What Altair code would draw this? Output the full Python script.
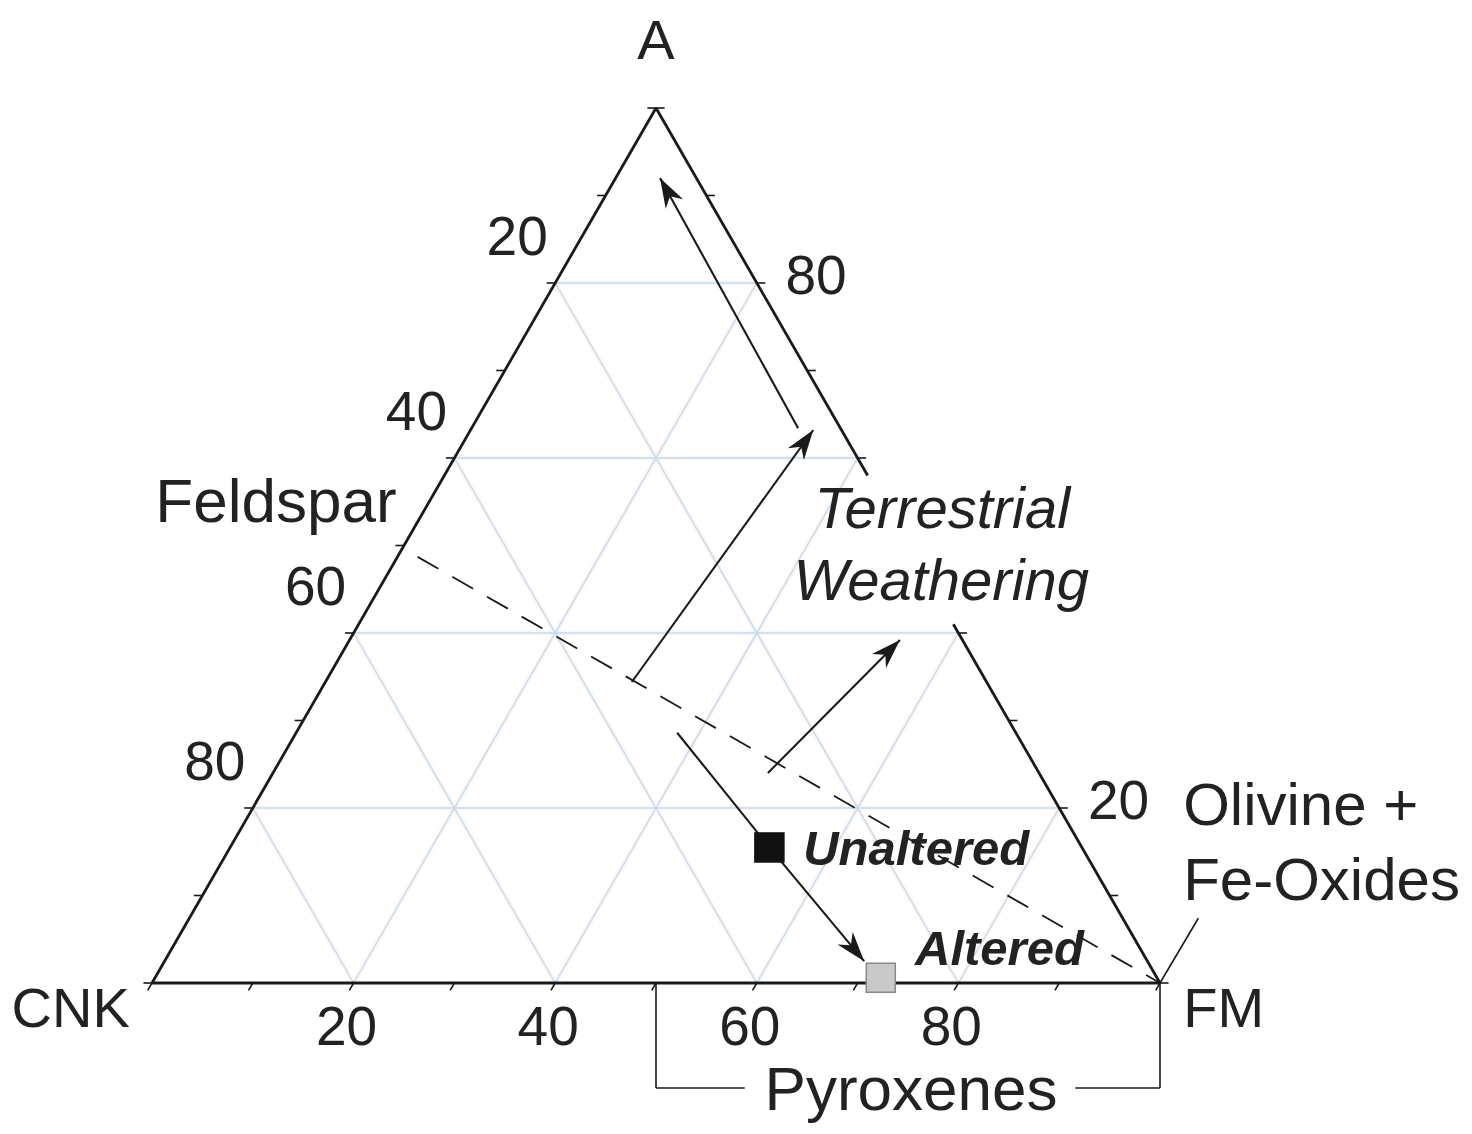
import math
import altair as alt
import pandas as pd

# ---------------- data (ternary compositions in %, A / FM; CNK = 100 - A - FM) ----------------
grid_levels = [20, 40, 60, 80]
tick_levels = [0, 10, 20, 30, 40, 50, 60, 70, 80, 90, 100]
bottom_labels = [20, 40, 60, 80]          # FM %
left_labels = [20, 40, 60, 80]            # CNK %
right_labels = [80, 20]                   # A %
right_edge_segments_A = [(100, 58), (41, 0)]  # right edge drawn only where not interrupted

# arrows: list of (A, FM) points, arrowhead at the last point
arrow_weathering = [(34.4, 30.4), (63.2, 34.0)]
arrow_to_A = [(63.4, 32.4), (92.0, 4.4)]
arrow_small = [(24.0, 49.1), (39.2, 54.6)]
arrow_alteration = [(28.6, 37.8), (15.5, 53.5), (2.5, 69.4)]
feldspar_tie_line = [(48.7, 2.0), (0.0, 100.0)]

unaltered_point = (15.5, 53.5)
altered_point = (0.6, 72.0)

# Pyroxenes bracket along the FM axis (FM range and drop below axis in A units)
bracket_FM = [50, 100]
bracket_gap_FM = [58.8, 91.6]
bracket_drop = -12.0
pointer_end = (103.8, 7.4)   # cartesian (x, A-height) of the Olivine pointer

# text labels: (text, x, A-height, align, size)
vertex_labels = [("A", 50.0, 105.6, "center", 56), ("CNK", -2.2, -5.0, "right", 56),
                 ("FM", 102.3, -5.0, "left", 56)]
mineral_labels = [("Feldspar", 12.3, 52.7, "center", 62), ("Olivine +", 102.3, 18.1, "left", 60),
                  ("Fe-Oxides", 102.3, 9.5, "left", 60), ("Pyroxenes", 75.3, -14.5, "center", 62)]
trend_labels = [("Terrestrial", 78.4, 52.0), ("Weathering", 78.3, 43.8)]
sample_labels = [("Unaltered", 64.6, 13.5), ("Altered", 75.7, 2.1)]

PX_X = 10.08
PX_Y = 8.75


def cart(a, fm):
    return fm + a / 2.0, a


# ---------------- build tables ----------------
def seg_df(segs):
    return pd.DataFrame([{"x": a[0], "y": a[1], "x2": b[0], "y2": b[1]} for a, b in segs])


grid = []
for g in grid_levels:
    grid.append((cart(g, 0), cart(g, 100 - g)))        # constant A
    grid.append((cart(0, g), cart(100 - g, g)))        # constant FM
    grid.append((cart(0, 100 - g), cart(100 - g, 0)))  # constant CNK
grid_df = seg_df(grid)

edges = [(cart(0, 0), cart(0, 100)), (cart(0, 0), cart(100, 0))]
for a1, a2 in right_edge_segments_A:
    edges.append((cart(a1, 100 - a1), cart(a2, 100 - a2)))
edges_df = seg_df(edges)

TL = 0.85
ticks = []
for t in tick_levels:
    bx, by = cart(0, t)
    ticks.append(((bx, by), (bx - TL * 0.5, by - TL * 0.866 * PX_X / PX_Y)))
    lx, ly = cart(t, 0)
    ticks.append(((lx, ly), (lx - TL, ly)))
    if any(min(s) <= t <= max(s) for s in right_edge_segments_A):
        rx, ry = cart(t, 100 - t)
        ticks.append(((rx, ry), (rx + TL, ry)))
ticks_df = seg_df(ticks)

arrow_lines = []
heads = []
for path in [arrow_weathering, arrow_to_A, arrow_small, arrow_alteration]:
    pts = [cart(a, fm) for a, fm in path]
    for p, q in zip(pts[:-1], pts[1:]):
        arrow_lines.append((p, q))
    (x0, y0), (x1, y1) = pts[-2], pts[-1]
    ang = math.degrees(math.atan2((x1 - x0) * PX_X, (y1 - y0) * PX_Y)) % 360
    heads.append({"x": x1, "y": y1, "angle": ang})
arrow_df = seg_df(arrow_lines)
heads_df = pd.DataFrame(heads)

dash_df = seg_df([(cart(*feldspar_tie_line[0]), cart(*feldspar_tie_line[1]))])

bracket = [
    ((bracket_FM[0], 0), (bracket_FM[0], bracket_drop)),
    ((bracket_FM[0], bracket_drop), (bracket_gap_FM[0], bracket_drop)),
    ((bracket_gap_FM[1], bracket_drop), (bracket_FM[1], bracket_drop)),
    ((bracket_FM[1], bracket_drop), (bracket_FM[1], 0)),
    ((100, 0), pointer_end),
]
bracket_df = seg_df(bracket)

pts_df = pd.DataFrame([
    {"x": cart(*unaltered_point)[0], "y": cart(*unaltered_point)[1], "kind": "Unaltered"},
    {"x": cart(*altered_point)[0], "y": cart(*altered_point)[1], "kind": "Altered"},
])

bottom_df = pd.DataFrame([{"x": cart(0, v)[0] - 0.7, "y": -7.1, "text": str(v)} for v in bottom_labels])
left_df = pd.DataFrame([{"x": cart(100 - v, 0)[0] - 3.77, "y": cart(100 - v, 0)[1] + 5.2, "text": str(v)}
                        for v in left_labels])
right_df = pd.DataFrame([{"x": cart(v, 100 - v)[0] + 2.85, "y": cart(v, 100 - v)[1] + 0.7, "text": str(v)}
                         for v in right_labels])

# ---------------- chart ----------------
xs = alt.Scale(domain=[0, 100], nice=False, zero=False)
ys = alt.Scale(domain=[0, 100], nice=False, zero=False)
X = alt.X("x:Q", scale=xs, axis=None)
Y = alt.Y("y:Q", scale=ys, axis=None)
FONT = "Liberation Sans"
TXT = "#222222"
INK = "#1a1a1a"


def rules(df, **kw):
    return alt.Chart(df).mark_rule(**kw).encode(x=X, y=Y, x2="x2:Q", y2="y2:Q")


def texts(rows, align, size, style="normal", weight="normal", baseline="alphabetic"):
    df = pd.DataFrame([{"text": r[0], "x": r[1], "y": r[2]} for r in rows])
    return alt.Chart(df).mark_text(align=align, baseline=baseline, fontSize=size, font=FONT,
                                   fontStyle=style, fontWeight=weight, color=TXT).encode(
        x=X, y=Y, text="text:N")


def num_labels(df, align, baseline):
    return alt.Chart(df).mark_text(align=align, baseline=baseline, fontSize=55, font=FONT, color=TXT).encode(
        x=X, y=Y, text="text:N")


arrow_shape = "M0,0L0.55,1.65L0,1.15L-0.55,1.65Z"

layers = [
    rules(grid_df, color="#fcefe9", strokeWidth=5, opacity=0.5),
    rules(grid_df, color="#c0dbf1", strokeWidth=1.4),
    rules(edges_df, color=INK, strokeWidth=2.8),
    rules(ticks_df, color=INK, strokeWidth=1.6),
    rules(dash_df, color=INK, strokeWidth=1.8, strokeDash=[24, 16]),
    rules(arrow_df, color=INK, strokeWidth=2.1),
    rules(bracket_df, color=INK, strokeWidth=1.6),
    alt.Chart(heads_df).mark_point(shape=arrow_shape, filled=True, color=INK, size=1300, opacity=1)
    .encode(x=X, y=Y, angle=alt.Angle("angle:Q", scale=None)),
    alt.Chart(pts_df).mark_square(size=841, opacity=1, strokeWidth=1.5).encode(
        x=X, y=Y,
        fill=alt.Fill("kind:N", scale=alt.Scale(domain=["Unaltered", "Altered"], range=["#111111", "#c9c9c9"]),
                      legend=None),
        stroke=alt.Stroke("kind:N", scale=alt.Scale(domain=["Unaltered", "Altered"], range=["#111111", "#888888"]),
                          legend=None)),
    num_labels(bottom_df, "center", "alphabetic"),
    num_labels(left_df, "center", "middle"),
    num_labels(right_df, "left", "middle"),
]
for t, x, y, al, sz in vertex_labels:
    layers.append(texts([(t, x, y)], al, sz))
for t, x, y, al, sz in mineral_labels:
    layers.append(texts([(t, x, y)], al, sz))
layers.append(texts(trend_labels, "center", 58, style="italic"))
layers.append(texts(sample_labels, "left", 49, style="italic", weight="bold"))

chart = alt.layer(*layers).properties(
    width=1008, height=875,
    autosize=alt.AutoSizeParams(type="none"),
    padding={"left": 144, "top": 100, "right": 300, "bottom": 140},
    background="white",
).configure_view(stroke=None)

chart.save("out.html", embed_options={"renderer": "svg", "actions": False})
